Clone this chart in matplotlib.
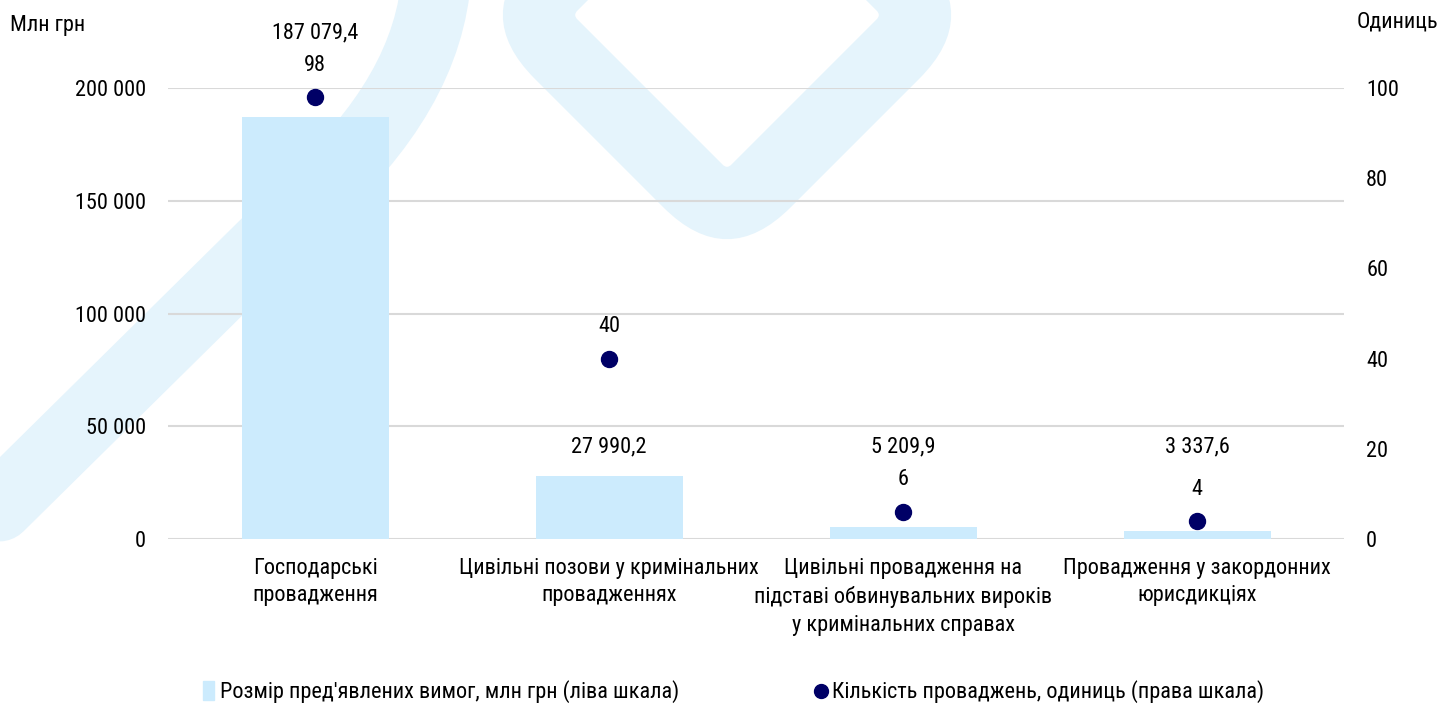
import numpy as np
import matplotlib.pyplot as plt
from matplotlib.path import Path
from matplotlib.patches import PathPatch, Patch
from matplotlib.lines import Line2D
from matplotlib import font_manager

# data
categories = ["Господарські\nпровадження",
              "Цивільні позови у кримінальних\nпровадженнях",
              "Цивільні провадження на\nпідставі обвинувальних вироків\nу кримінальних справах",
              "Провадження у закордонних\nюрисдикціях"]
claims = [187079.4, 27990.2, 5209.9, 3337.6]   # млн грн, left scale
counts = [98, 40, 6, 4]                        # одиниць, right scale
left_ticks = [0, 50000, 100000, 150000, 200000]
right_ticks = [0, 20, 40, 60, 80, 100]
legend_labels = ["Розмір пред'явлених вимог, млн грн (ліва шкала)",
                 "Кількість проваджень, одиниць (права шкала)"]

bar_color = '#CCEBFD'
dot_color = '#000066'
grid_color = '#D9D9D9'
mark_color = '#E5F4FC'

# narrow sans like the original; take the first one that is installed
names = {f.name for f in font_manager.fontManager.ttflist}
wanted = ['Liberation Sans Narrow', 'Arial Narrow', 'Roboto Condensed', 'PT Sans Narrow',
          'Fira Sans Condensed', 'IBM Plex Sans Condensed', 'Liberation Sans']
main_font = next(f for f in wanted if f in names)
plt.rcParams['font.family'] = [main_font, 'DejaVu Sans']
plt.rcParams['font.size'] = 16
plt.rcParams['text.color'] = 'black'


def fmt(v):
    s = f"{v:,.1f}" if v % 1 else f"{v:,.0f}"
    return s.replace(",", " ").replace(".", ",")


def rounded_diamond(cx, cy, r, rad, reverse=False):
    # diamond with rounded corners (quadratic curves), as path vertices/codes
    pts = [(cx, cy + r), (cx + r, cy), (cx, cy - r), (cx - r, cy)]
    if reverse:
        pts = pts[::-1]
    verts, codes = [], []
    n = len(pts)
    for i in range(n):
        p, prev, nxt = np.array(pts[i]), np.array(pts[i - 1]), np.array(pts[(i + 1) % n])
        a = p + (prev - p) / np.linalg.norm(prev - p) * rad
        b = p + (nxt - p) / np.linalg.norm(nxt - p) * rad
        verts += [tuple(a), tuple(p), tuple(b)]
        codes += [Path.MOVETO if i == 0 else Path.LINETO, Path.CURVE3, Path.CURVE3]
    verts.append(verts[0])
    codes.append(Path.CLOSEPOLY)
    return verts, codes


W, H = 1451, 708
fig = plt.figure(figsize=(W / 100, H / 100), dpi=100, facecolor='white')

# watermark in pixel coordinates
bg = fig.add_axes([0, 0, 1, 1], zorder=-1)
bg.set_xlim(0, W)
bg.set_ylim(H, 0)
bg.axis('off')
band = Path([(-60, 565), (320, 190), (437, 80), (437, -40)],
            [Path.MOVETO, Path.LINETO, Path.CURVE3, Path.CURVE3])
bg.add_patch(PathPatch(band, fill=False, ec=mark_color, lw=50, capstyle='round'))
v1, c1 = rounded_diamond(727, 15, 256, 90)
v2, c2 = rounded_diamond(727, 15, 154, 6, reverse=True)
bg.add_patch(PathPatch(Path(v1 + v2, c1 + c2), fc=mark_color, ec='none'))

ax = fig.add_axes([168 / W, 1 - 539 / H, (1344 - 168) / W, (539 - 88) / H])
ax.patch.set_alpha(0)
x = np.arange(len(categories))
ax.bar(x, claims, width=0.5, color=bar_color, zorder=2)
ax.set_xlim(-0.5, len(categories) - 0.5)
ax.set_ylim(0, 200000)
ax.set_yticks(left_ticks, [fmt(t) for t in left_ticks])
ax.set_xticks(x, categories, linespacing=1.42)
ax.grid(axis='y', color=grid_color, lw=1.5, zorder=0)
ax.set_axisbelow(True)
ax.tick_params(axis='y', length=0, pad=16)
ax.tick_params(axis='x', length=0, pad=13.5)
for s in ax.spines.values():
    s.set_visible(False)

ax2 = ax.twinx()
ax2.plot(x, counts, 'o', color=dot_color, ms=11.5, clip_on=False, zorder=3)
ax2.set_ylim(0, 100)
ax2.set_yticks(right_ticks)
ax2.tick_params(axis='y', length=0, pad=16)
for s in ax2.spines.values():
    s.set_visible(False)

# labels
label_floor = 41000
for i, (v, c) in enumerate(zip(claims, counts)):
    ax2.annotate(fmt(c), (x[i], c), xytext=(0, 23), textcoords='offset points',
                 ha='center', va='center', annotation_clip=False)
    if v < label_floor:
        ax.text(x[i], label_floor, fmt(v), ha='center', va='center')
    else:
        ax2.annotate(fmt(v), (x[i], c), xytext=(0, 46), textcoords='offset points',
                     ha='center', va='center', annotation_clip=False)

fig.text(10 / W, 1 - 25 / H, "Млн грн", ha='left', va='center')
fig.text(1438 / W, 1 - 22 / H, "Одиниць", ha='right', va='center')

# two legend entries, placed apart as in the original
leg_y = 1 - 692 / H
fig.legend([Patch(color=bar_color)], legend_labels[:1], loc='center left',
           bbox_to_anchor=(203 / W, leg_y), frameon=False,
           handlelength=0.5, handleheight=0.9, handletextpad=0.25, borderpad=0,
           borderaxespad=0)
fig.legend([Line2D([], [], marker='o', ls='', color=dot_color, ms=10)], legend_labels[1:],
           loc='center left', bbox_to_anchor=(812 / W, leg_y), frameon=False,
           handlelength=0.8, handletextpad=0.1, borderpad=0, borderaxespad=0)

fig.savefig('out.png', dpi=100, facecolor='white')
